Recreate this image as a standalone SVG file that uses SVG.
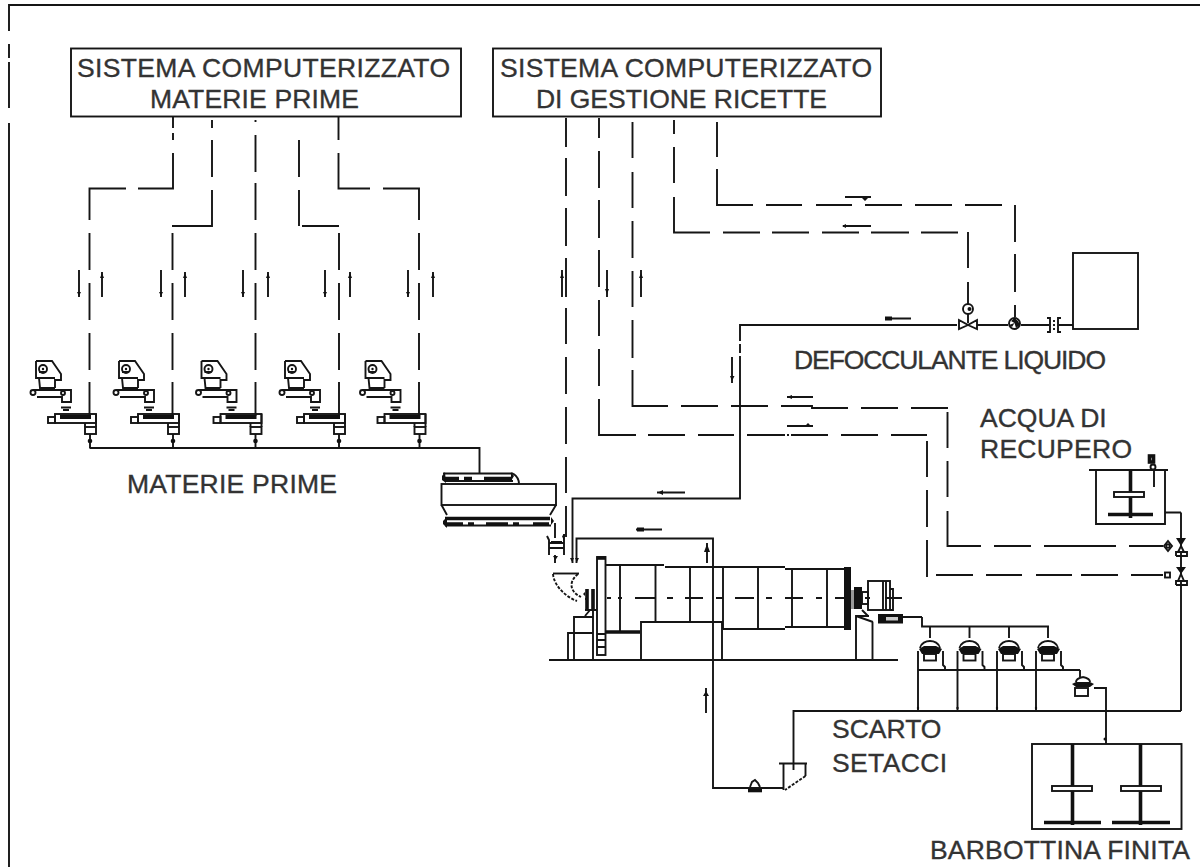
<svg xmlns="http://www.w3.org/2000/svg" width="1200" height="867" viewBox="0 0 1200 867">
<style>
.l{fill:none;stroke:#151515;stroke-width:1.9}
.w{fill:#fff;stroke:#151515;stroke-width:1.9}
.t{fill:none;stroke:#111;stroke-width:3.6}
.k{fill:#111;stroke:none}
.x{font-family:"Liberation Sans",Arial,sans-serif;font-size:26.5px;fill:#333;stroke:#333;stroke-width:.35}
</style>
<defs>
<g id="feeder">
<path class="l" d="M36 361H52L61 374V380H55V388M36 361V378H55M39 378L40 388H55M33 390H71V402H62V397H37M39 372H46"/>
<circle class="l" cx="43" cy="369" r="4"/>
<circle class="k" cx="43" cy="369" r="1.2"/>
<circle class="w" cx="33" cy="392.500" r="2.500"/>
<circle class="w" cx="63" cy="393" r="2"/>
<path class="l" d="M61 407.500H71M63 410H69"/>
<rect class="l" x="48" y="417" width="7" height="6"/>
<rect class="l" x="55" y="414" width="41" height="9"/>
<rect class="k" x="60" y="415" width="31" height="4"/>
<path class="l" d="M96 414V427M85 423V427"/>
<rect class="l" x="85" y="427" width="11" height="7"/>
<path class="l" d="M90 434V448"/>
<circle class="k" cx="90" cy="441" r="2.300"/>
</g>
<g id="sieve">
<path class="l" d="M0 626.500V638M-10 648C-9 643-4 641 0 641C4 641 9 643 10 648M-12 651V711M13 651V665L15 667V670"/>
<path class="k" d="M-11 649L-6 646H6L12 649L9 654H-8Z"/>
<rect class="l" x="-6" y="654" width="12" height="6.500"/>
<circle class="k" cx="-12" cy="708" r="1.200"/>
</g>
</defs>
<path id="frame" class="l" d="M9 867V123M9 108V62M9 58V44M9 31V5H1200"/>

<g id="system-materie-prime">
<rect class="l" x="71" y="48.500" width="390" height="68"/>
<text class="x" x="77" y="76.500" textLength="373">SISTEMA COMPUTERIZZATO</text>
<text class="x" x="150" y="107.500" textLength="209">MATERIE PRIME</text>
</g>
<g id="system-ricette">
<rect class="l" x="493" y="48.500" width="388" height="68"/>
<text class="x" x="500" y="76.500" textLength="372">SISTEMA COMPUTERIZZATO</text>
<text class="x" x="536" y="107.500" textLength="291">DI GESTIONE RICETTE</text>
</g>

<g id="connectors">
<path class="l" d="M173 117V128M173 133V140M173 153V188.500H138M126 188.500H89.500V220M212 120V128M212 140V177M212 190V226H172M255.500 120V122M255.500 135V172M255.500 183V220M299 140V177M299 190V226M302 226H339M338.500 117V140M338.500 153V188.500H370M383 188.500H419V220"/>
<path class="l" d="M89.500 233V270M89.500 283V320M89.500 333V370M89.500 382V416M172.500 233V270M172.500 283V320M172.500 333V370M172.500 382V416M255.500 233V270M255.500 283V320M255.500 333V370M255.500 382V416M339 233V270M339 283V320M339 333V370M339 382V416M419 233V270M419 283V320M419 333V370M419 382V416"/>
<path class="l" d="M566 118V147M566 158V196M566 208V246M566 258V297M566 308V344M566 357V394M566 407V444M566 457V493M566 506V537"/>
<path class="l" d="M599 118V138M599 151V188M599 200V238M599 250V287M599 300V336M599 349V386M599 399V435H636M648 435H685M698 435H734M747 435H785M787 435H789M791 435H828M841 435H878M891 435H927M927 441V477M927 490V527M927 540V577M936 575H973M986 575H1022M1036 575H1072M1081 575H1118M1131 575H1163"/>
<path class="l" d="M632.500 122V158M632.500 172V208M632.500 221V258M632.500 271V307M632.500 320V358M632.500 370V406H668M681 406H718M731 406H768M781 406H812V408H848M861 408H898M911 408H948M947.500 412V448M947.500 461V497M947.500 511V546H981M994 546H1031M1044 546H1116M1129 546H1163"/>
<path class="l" d="M674 120V134M674 147V183M674 197V232.500H710M723 232.500H760M772 232.500H809M822 232.500H859M871 232.500H909M921 232.500H958M968 232V268M968 282V304"/>
<path class="l" d="M717 122V157M717 169V205H753M766 205H802M816 205H852M865 205H902M915 205H952M965 205H1002M1015 205V242M1015 254V292M1015 305V317"/>
<path class="l" d="M89.500 448H479.500V473M572.500 563V498.500H740V356M740 353V344M740 341V325H957M977 325H1008M1021 325H1049M1059 325H1073M576.500 563V538.500H713V788H783M748 788H783M1181 512.500V711M793.500 770V711H1181M922 617V626.500H1049M903 617H922M1080 670V677M1094 688H1106V744M918 670H1080M945 670H1049"/>
<path class="l" d="M79 270V297M161 270V297M243 270V297M325 270V297M408 270V297M102 272V297M185 272V297M268 272V297M350 272V297M433 272V297M562 270V297M607 270V297M641 270V297M845 197H871M843 226H871M885 318.500H911M787 397H813M787 426H813M657 492.500H685M636 529.500H662M732 357V383M707 543V563M706 688V713"/>
<path class="k" d="M77 292L79 296L81 292ZM159 292L161 296L163 292ZM241 292L243 296L245 292ZM323 292L325 296L327 292ZM406 292L408 296L410 292ZM100 278L102 273L104 278ZM183 278L185 273L187 278ZM266 278L268 273L270 278ZM348 278L350 273L352 278ZM431 278L433 273L435 278ZM560 278L562 273L564 278ZM605 289L607 294L609 289ZM639 278L641 273L643 278ZM862 198H868L865 201ZM846 224V228L842 226ZM885 316.500H892V320.500H885ZM792 395V399L787 397ZM805 426L808 423L811 426ZM663 490V495L658 492.500ZM637 527.500H644V531.500H637ZM730 376L732 381L734.500 376ZM704 552L707 544L710 552ZM703 696L706 691L709 696Z"/>
</g>

<g id="feeder-1"><use href="#feeder"/></g>
<g id="feeder-2"><use href="#feeder" x="83"/></g>
<g id="feeder-3"><use href="#feeder" x="165.500"/></g>
<g id="feeder-4"><use href="#feeder" x="249"/></g>
<g id="feeder-5"><use href="#feeder" x="329.500"/></g>
<text id="label-materie" class="x" x="127" y="493" textLength="210">MATERIE PRIME</text>

<g id="weigher">
<path class="l" d="M443 473.500H513M513 473.500C517 476 519 480 519 484M445 481H513"/>
<path class="t" d="M445 478.500H512" stroke-dasharray="14 5 8 12 30 4"/>
<path class="k" d="M442 476L445 472L446 483L442 480ZM511 472L514 476L511 481Z"/>
<rect class="l" x="441.500" y="484" width="114.500" height="21"/>
<path class="l" d="M441.500 505L447 515M556 505L550 515M445 525.500H551"/>
<path class="t" d="M445 518.500H550"/>
<path class="t" d="M447 524H550" stroke-dasharray="16 5 6 12 22 5 6 14"/>
<path class="k" d="M443 521L447 517V528L443 524ZM551 517L554 521L551 525Z"/>
</g>
<g id="dosing-unit">
<path class="l" d="M555 523V538M547 536L549 540V555M564 534V555M555 555V563M549 543H564M549 548H564"/>
<path class="k" d="M551 541H562V543H551ZM562 536L565 534L564 541ZM553 556H558L555.500 560ZM570 558H574L572 562ZM575 558H579L577 562Z"/>
</g>

<g id="mill">
<path class="l" d="M553 573.500H579"/>
<path class="l" d="M553 574C554 586 566 597 577 601M578 574C568 582 570 592 581 597" stroke-dasharray="3 1.500"/>
<rect class="l" x="597" y="557" width="8.500" height="98"/>
<path class="t" d="M597 558H606"/>
<path class="l" d="M597 634H606M597 640H606M597 647H606"/>
<path class="l" d="M605 565H664M665 567H785M785 569H845M605 632H640M723 629H785M785 627H845"/>
<path class="l" d="M620 565V632M655.500 565V622M690 567V622M723 567V629M758 567V629M792 569V627M827 569V627"/>
<path class="l" d="M607 598H611M618 598H622M635 598H655M667 598H673M685 598H703M716 598H723M735 598H754M766 598H772M785 598H803M816 598H822M835 598H851M865 598H870M885 598H902"/>
<path class="t" d="M606 632H640"/>
<path class="k" d="M844 567H851V630H844ZM854 587H862V609H854Z"/>
<rect x="851" y="590" width="3" height="19" fill="#999"/>
<rect class="l" x="862" y="592" width="6" height="12"/>
<rect class="l" x="868" y="581" width="22" height="29"/>
<path class="l" d="M883 581V610M886 581V610M890 589H893V610H890M862 610L868 616"/>
<path class="t" d="M587 589V610M593 589V610" stroke-width="2.400"/>
<path class="l" d="M585 599H587M585 610H597M590 610L585 616"/>
<path class="k" d="M583 594L585 592V596Z"/>
<path class="l" d="M568 660V633H593M574 660V617H593M593 590V660M549 660H898M641 660V622H722V660M856 660V616H869M872.500 660V622M856 616L873 622"/>
<rect class="k" x="878" y="614" width="25" height="9.500"/>
<rect x="886" y="617" width="12" height="3.500" fill="#ccc"/>
</g>

<g id="sieve-1"><use href="#sieve" x="930"/></g>
<g id="sieve-2"><use href="#sieve" x="969.500"/></g>
<g id="sieve-3"><use href="#sieve" x="1009"/></g>
<g id="sieve-4"><use href="#sieve" x="1048"/></g>
<g id="sieve-5">
<path class="l" d="M1083 677C1078 678 1076 680 1076 682M1083 677C1088 678 1090 680 1090 682"/>
<path class="k" d="M1072 684L1076 682H1090L1094 684L1090 687H1076Z"/>
<rect class="l" x="1075" y="688" width="13" height="8"/>
</g>

<g id="cyclone">
<path class="l" d="M779 763.500H807M783.500 763.500V790M805.500 763.500V776"/>
<path class="l" d="M805.500 776L785 790" stroke-dasharray="3 1.500"/>
<path class="l" d="M750 787L752 782L755 780L758 783L760 787"/>
<path class="t" d="M748 790.500H762" stroke-width="2.600"/>
</g>
<g id="tank-defloc">
<rect class="l" x="1073" y="253" width="65" height="76"/>
</g>
<g id="valves-defloc">
<path class="l" d="M959 320V329L968 325ZM977 320V329L968 325Z"/>
<circle class="l" cx="968" cy="309" r="5"/>
<circle class="k" cx="969.500" cy="309" r="2"/>
<path class="l" d="M968 314V323"/>
<circle class="w" cx="1014.500" cy="323.500" r="5.500"/>
<path class="k" d="M1011 321L1014.500 318L1018 321L1020 325L1016 328L1014.500 323ZM1014.500 323L1009 325L1012 327Z"/>
<path class="l" d="M1047 318H1050V332H1047M1061 318H1058V332H1061"/>
<path class="l" d="M1054 320V330" stroke-dasharray="2 2"/>
</g>
<text id="label-defloc" class="x" x="794" y="369" textLength="312">DEFOCCULANTE LIQUIDO</text>

<g id="tank-acqua">
<text class="x" x="980" y="427">ACQUA DI</text>
<text class="x" x="980" y="458" textLength="152">RECUPERO</text>
<path class="l" d="M1089 470H1168M1096 470V524H1165V470M1165 512.500H1181M1154 470V487"/>
<path class="t" d="M1130.500 470V518M1108 514.500H1153"/>
<rect class="w" x="1114" y="492" width="30" height="5"/>
<rect class="t" x="1149.500" y="456" width="4" height="6" stroke-width="2.200"/>
<circle class="w" cx="1153" cy="467" r="2.500"/>
</g>
<g id="valves-acqua">
<path class="k" d="M1176 538H1186L1181 546ZM1176 567H1186L1181 574Z"/>
<path class="w" d="M1181 546L1184 552H1178Z"/>
<path class="w" d="M1181 574L1184 581H1178Z"/>
<path class="l" d="M1176 556V552H1187V556H1176M1176 585V581H1187V585H1176"/>
<path class="l" d="M1168 541L1172 546L1168 551L1164 546Z"/>
<circle class="w" cx="1168" cy="546" r="1.800"/>
<rect class="w" x="1165" y="572.500" width="5" height="5"/>
</g>

<text id="label-scarto" class="x" x="832" y="738">SCARTO</text>
<text id="label-setacci" class="x" x="832" y="772" textLength="115">SETACCI</text>

<g id="tank-barbottina">
<rect class="l" x="1032" y="744" width="149.500" height="85"/>
<path class="t" d="M1072.500 744V825M1140.500 744V825M1044 822.500H1101M1112 822.500H1170"/>
<rect class="w" x="1052" y="786" width="40" height="5"/>
<rect class="w" x="1121" y="786" width="40" height="5"/>
<circle class="k" cx="1105" cy="739" r="1.500"/>
</g>
<text id="label-barbottina" class="x" x="930" y="859" textLength="260">BARBOTTINA FINITA</text>
</svg>
